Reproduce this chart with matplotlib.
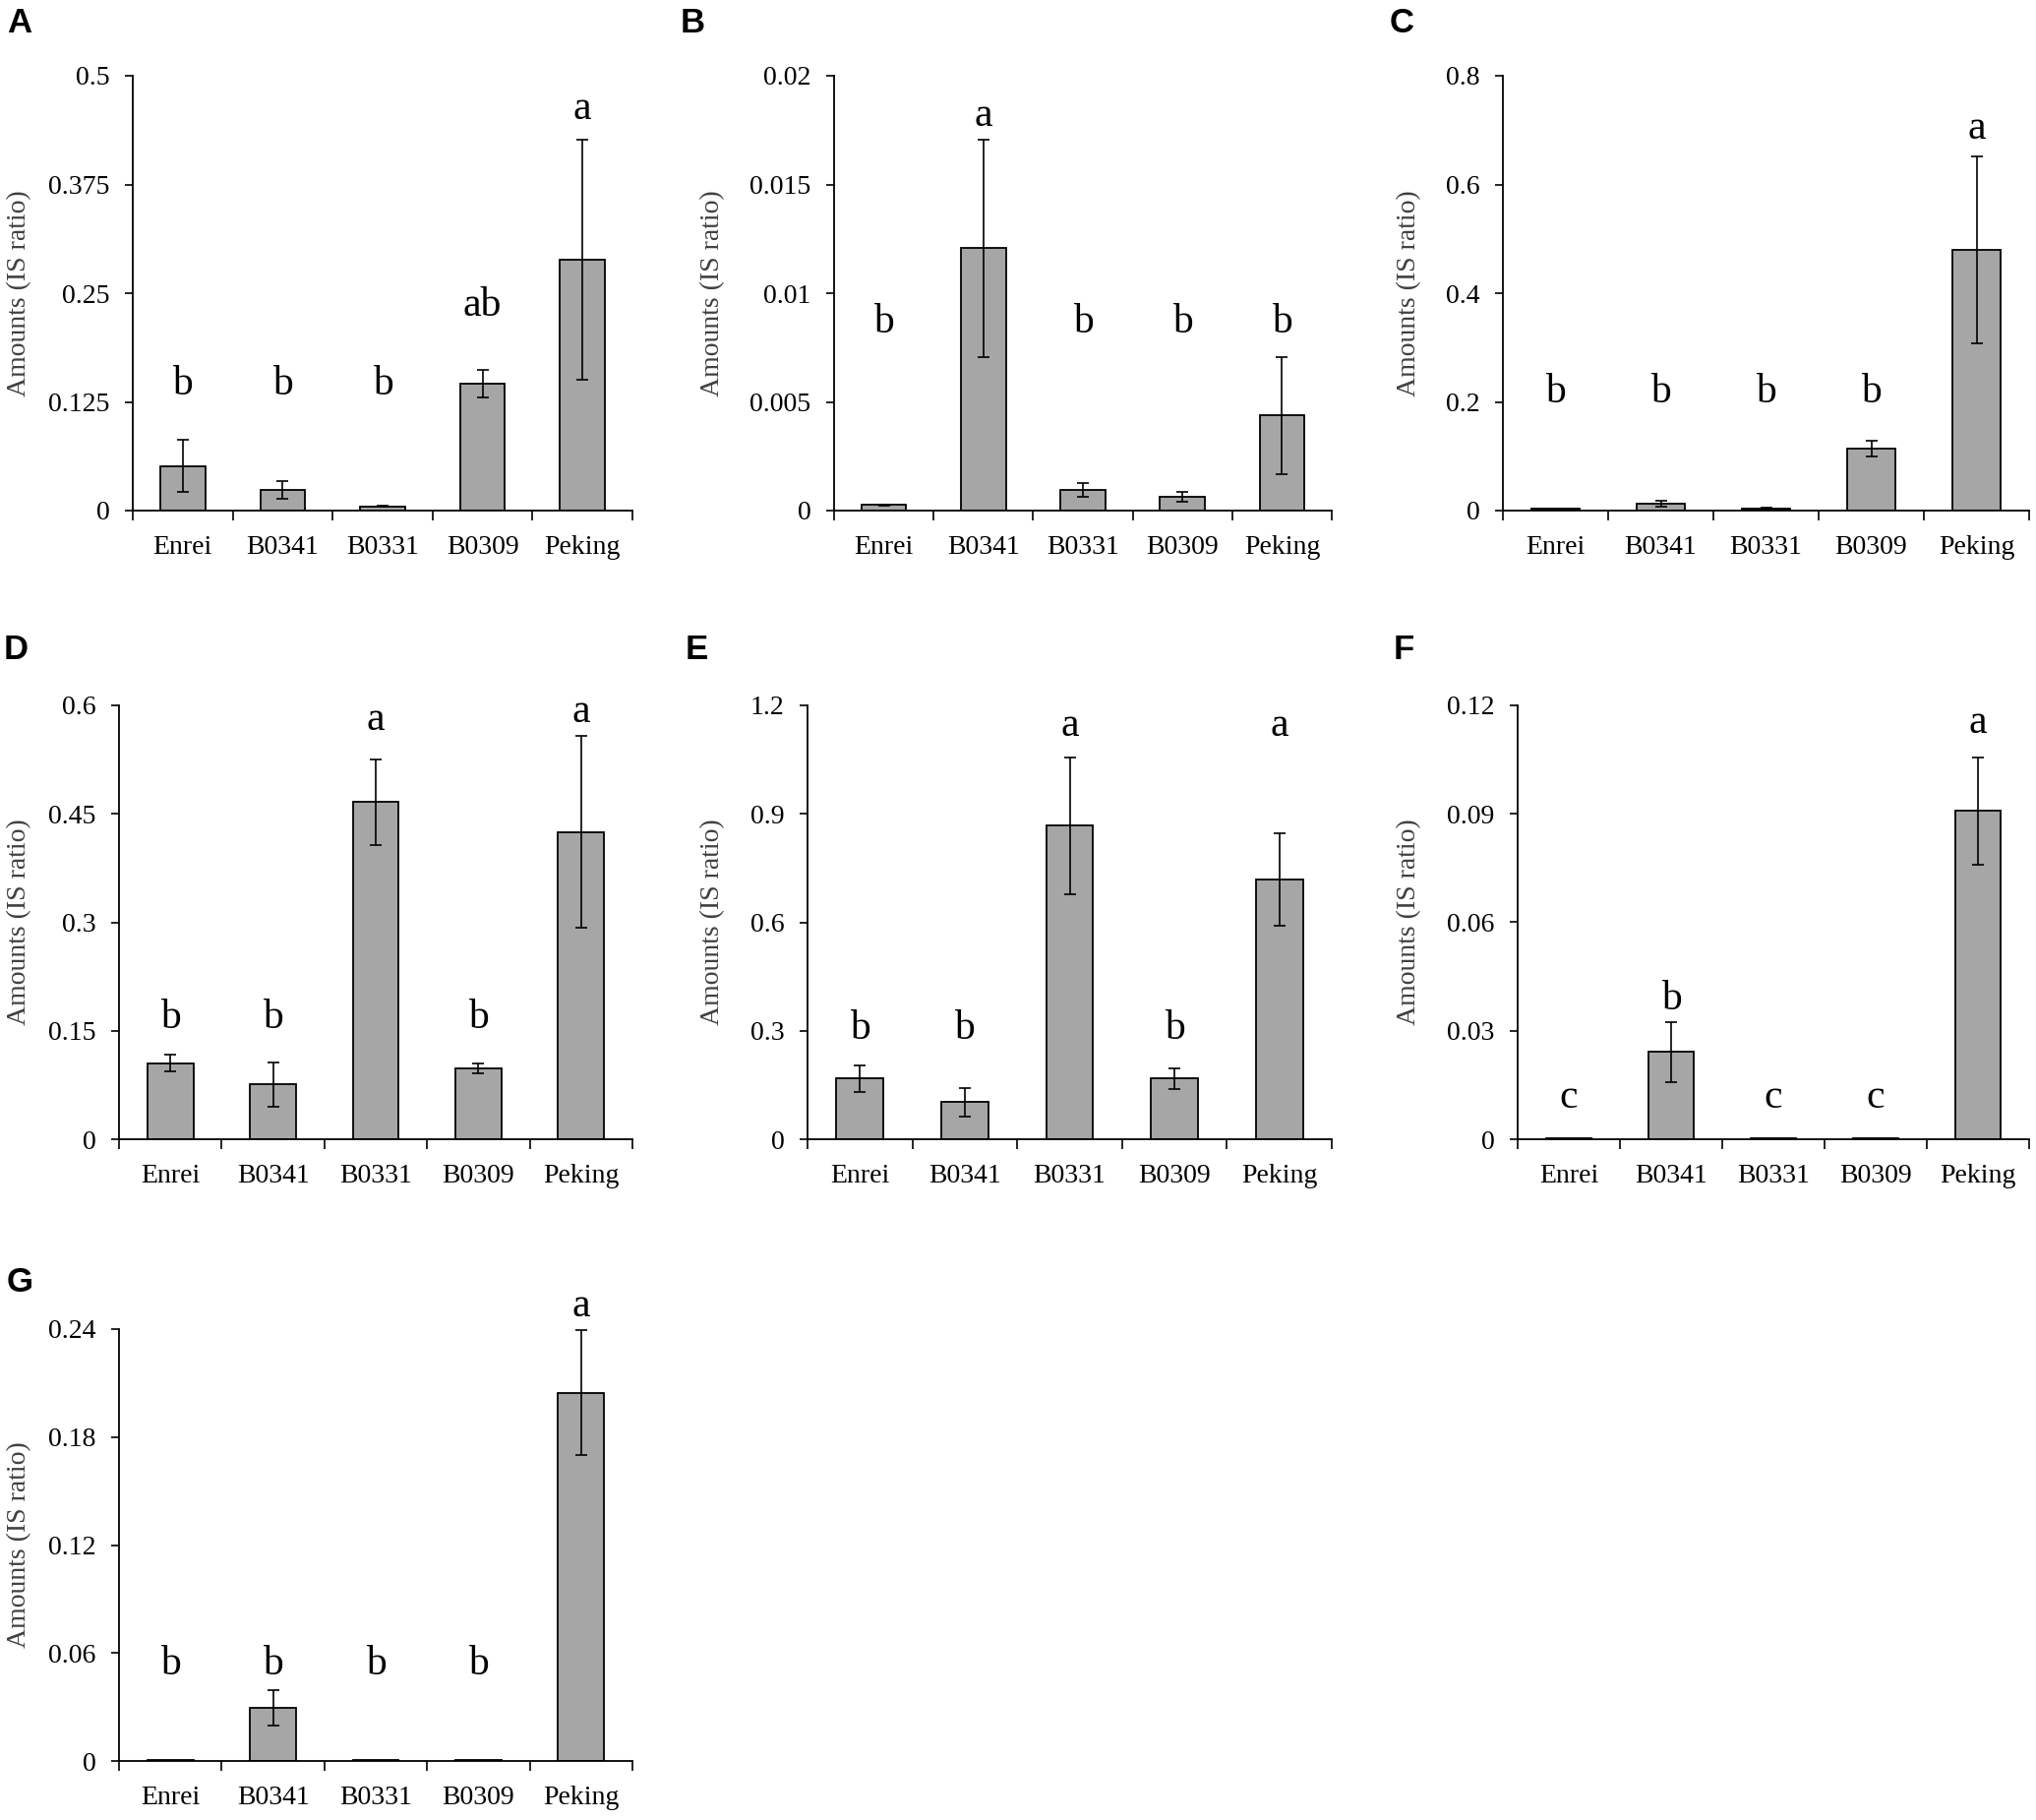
import matplotlib
matplotlib.use("Agg")
import matplotlib.pyplot as plt
import numpy as np

plt.rcParams['font.family'] = ['Liberation Serif', 'DejaVu Serif']

cultivars = ['Enrei', 'B0341', 'B0331', 'B0309', 'Peking']

# panel A
A_means = [0.051, 0.024, 0.005, 0.146, 0.288]
A_err = [0.030, 0.010, 0.001, 0.016, 0.138]
A_letters = ['b', 'b', 'b', 'ab', 'a']
A_letter_y = [0.133, 0.133, 0.133, 0.2235, 0.450]
A_ticks = ['0', '0.125', '0.25', '0.375', '0.5']

# panel B
B_means = [0.00026, 0.01207, 0.00095, 0.00065, 0.00437]
B_err = [0.00003, 0.0050, 0.0003, 0.00023, 0.0027]
B_letters = ['b', 'a', 'b', 'b', 'b']
B_letter_y = [0.0082, 0.0177, 0.0082, 0.0082, 0.0082]
B_ticks = ['0', '0.005', '0.01', '0.015', '0.02']

# panel C
C_means = [0.003, 0.013, 0.003, 0.114, 0.480]
C_err = [0.0, 0.005, 0.002, 0.015, 0.172]
C_letters = ['b', 'b', 'b', 'b', 'a']
C_letter_y = [0.1995, 0.1995, 0.1995, 0.1995, 0.684]
C_ticks = ['0', '0.2', '0.4', '0.6', '0.8']

# panel D
D_means = [0.105, 0.076, 0.466, 0.098, 0.425]
D_err = [0.0115, 0.0305, 0.059, 0.007, 0.1325]
D_letters = ['b', 'b', 'a', 'b', 'a']
D_letter_y = [0.154, 0.154, 0.566, 0.154, 0.577]
D_ticks = ['0', '0.15', '0.3', '0.45', '0.6']

# panel E
E_means = [0.168, 0.1025, 0.867, 0.168, 0.719]
E_err = [0.037, 0.039, 0.189, 0.028, 0.1275]
E_letters = ['b', 'b', 'a', 'b', 'a']
E_letter_y = [0.2785, 0.2785, 1.117, 0.2785, 1.117]
E_ticks = ['0', '0.3', '0.6', '0.9', '1.2']

# panel F
F_means = [0.0003, 0.0242, 0.0003, 0.0003, 0.0908]
F_err = [0.0, 0.0083, 0.0, 0.0, 0.0148]
F_letters = ['c', 'b', 'c', 'c', 'a']
F_letter_y = [0.0088, 0.0359, 0.0088, 0.0088, 0.1123]
F_ticks = ['0', '0.03', '0.06', '0.09', '0.12']

# panel G
G_means = [0.0005, 0.0293, 0.0005, 0.0005, 0.2047]
G_err = [0.0, 0.0098, 0.0, 0.0, 0.0346]
G_letters = ['b', 'b', 'b', 'b', 'a']
G_letter_y = [0.048, 0.048, 0.048, 0.048, 0.247]
G_ticks = ['0', '0.06', '0.12', '0.18', '0.24']

W, H = 2070, 1850
fig = plt.figure(figsize=(W / 100, H / 100), dpi=100)


def px_axes(left, right, top, bottom):
    return [left / W, 1 - bottom / H, (right - left) / W, (bottom - top) / H]


panels = [
    ('A', A_means, A_err, A_letters, A_letter_y, A_ticks, px_axes(135, 643, 77, 519), 20, (7, 7)),
    ('B', B_means, B_err, B_letters, B_letter_y, B_ticks, px_axes(848, 1354, 77, 519), 725, (692, 7)),
    ('C', C_means, C_err, C_letters, C_letter_y, C_ticks, px_axes(1528, 2063, 77, 519), 1433, (1413, 7)),
    ('D', D_means, D_err, D_letters, D_letter_y, D_ticks, px_axes(121, 643, 717, 1158), 20, (4, 644)),
    ('E', E_means, E_err, E_letters, E_letter_y, E_ticks, px_axes(821, 1354, 717, 1158), 725, (697, 644)),
    ('F', F_means, F_err, F_letters, F_letter_y, F_ticks, px_axes(1543, 2063, 717, 1158), 1433, (1417, 644)),
    ('G', G_means, G_err, G_letters, G_letter_y, G_ticks, px_axes(121, 643, 1351, 1790), 20, (7, 1287)),
]

x = np.arange(len(cultivars))

for name, means, err, letters, letter_y, ticks, rect, ylab_x, lab_xy in panels:
    ax = fig.add_axes(rect)
    ax.bar(x, means, width=0.45, color='#a6a6a6', edgecolor='black', linewidth=1.3, zorder=2)
    err = np.array(err)
    m = err > 0
    ax.errorbar(x[m], np.array(means)[m], yerr=err[m], fmt='none', ecolor='black',
                elinewidth=1.2, capsize=4.5, capthick=1.2, zorder=3)
    for xi, s, yy in zip(x, letters, letter_y):
        ax.text(xi, yy, s, ha='center', va='baseline', fontsize=30)

    vals = [float(t) for t in ticks]
    ax.set_xlim(-0.5, len(cultivars) - 0.5)
    ax.set_ylim(0, vals[-1])
    ax.set_yticks(vals)
    ax.set_yticklabels(ticks)
    ax.set_xticks(x)
    ax.set_xticklabels(cultivars)
    ax.set_xticks(np.arange(-0.5, len(cultivars)), minor=True)
    ax.tick_params(axis='x', which='major', length=0, pad=18, labelsize=20)
    ax.tick_params(axis='x', which='minor', length=7, width=1.2, direction='out')
    ax.tick_params(axis='y', length=6, width=1.2, direction='out', pad=11, labelsize=20)
    for sp in ['top', 'right']:
        ax.spines[sp].set_visible(False)
    for sp in ['left', 'bottom']:
        ax.spines[sp].set_linewidth(1.3)

    yc = rect[1] + rect[3] / 2
    fig.text(ylab_x / W, yc, 'Amounts (IS ratio)', rotation=90, ha='center', va='center',
             fontsize=20, color='#404040')
    fig.text(lab_xy[0] / W, 1 - lab_xy[1] / H, name, ha='left', va='top', fontsize=25,
             fontweight='bold', family=['Liberation Sans', 'DejaVu Sans'])

fig.savefig('out.png', dpi=100)
